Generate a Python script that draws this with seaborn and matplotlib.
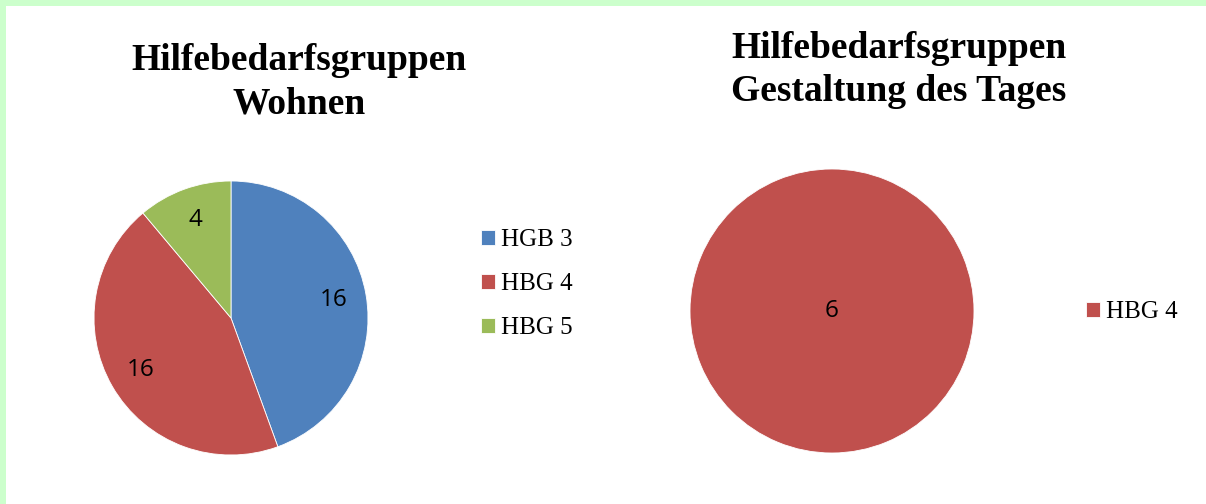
import matplotlib
matplotlib.use("Agg")
import matplotlib.pyplot as plt
import seaborn as sns
from matplotlib.patches import Rectangle

# data
wohnen_labels = ["HGB 3", "HBG 4", "HBG 5"]
wohnen_values = [16, 16, 4]
tages_labels = ["HBG 4"]
tages_values = [6]

title_left = "Hilfebedarfsgruppen\nWohnen"
title_right = "Hilfebedarfsgruppen\nGestaltung des Tages"

colors = {"HGB 3": "#4F81BD", "HBG 4": "#C0504D", "HBG 5": "#9BBB59"}

sns.set_theme(style="white")
plt.rcParams["font.family"] = ["Liberation Serif", "DejaVu Serif"]
plt.rcParams["text.color"] = "black"

W, H = 1206, 504
fig = plt.figure(figsize=(W / 100, H / 100), dpi=100)
fig.patch.set_facecolor("white")

# light green frame on top and left
fig.patches.append(Rectangle((0, 1 - 6 / H), 1, 6 / H, transform=fig.transFigure,
                             facecolor="#CCFFCC", edgecolor="none", zorder=0))
fig.patches.append(Rectangle((0, 0), 6 / W, 1, transform=fig.transFigure,
                             facecolor="#CCFFCC", edgecolor="none", zorder=0))


def pie_axes(cx, cy, r):
    ax = fig.add_axes([(cx - r) / W, (H - cy - r) / H, 2 * r / W, 2 * r / H])
    return ax


def draw_pie(ax, labels, values, pctdist):
    total = sum(values)
    wedges, _, autotexts = ax.pie(
        values, colors=[colors[l] for l in labels], startangle=90, counterclock=False,
        autopct=lambda p: f"{p * total / 100:.0f}", pctdistance=pctdist,
        wedgeprops=dict(edgecolor="white", linewidth=0.6),
        textprops=dict(fontsize=17.5, family="Open Sans", color="black"))
    ax.set_xlim(-1, 1)
    ax.set_ylim(-1, 1)
    ax.set_aspect("equal")
    ax.axis("off")
    return wedges


ax1 = pie_axes(231, 318, 137)
w1 = draw_pie(ax1, wohnen_labels, wohnen_values, 0.76)
ax2 = pie_axes(832, 311, 142)
w2 = draw_pie(ax2, tages_labels, tages_values, 0.0)

fig.text(299 / W, 1 - 82 / H, title_left, ha="center", va="center", color="black",
         fontsize=27, fontweight="bold", linespacing=1.3)
fig.text(899 / W, 1 - 70 / H, title_right, ha="center", va="center", color="black",
         fontsize=27, fontweight="bold", linespacing=1.3)

leg_kw = dict(frameon=False, fontsize=18, handlelength=0.56, handleheight=0.56,
              handletextpad=0.25, labelspacing=0.88, borderpad=0, borderaxespad=0,
              labelcolor="black")
fig.legend(w1, wohnen_labels, loc="center left",
           bbox_to_anchor=(481 / W, 1 - 284 / H), **leg_kw)
fig.legend(w2, tages_labels, loc="center left",
           bbox_to_anchor=(1086 / W, 1 - 312 / H), **leg_kw)

fig.savefig("out.png", dpi=100, facecolor="white")
